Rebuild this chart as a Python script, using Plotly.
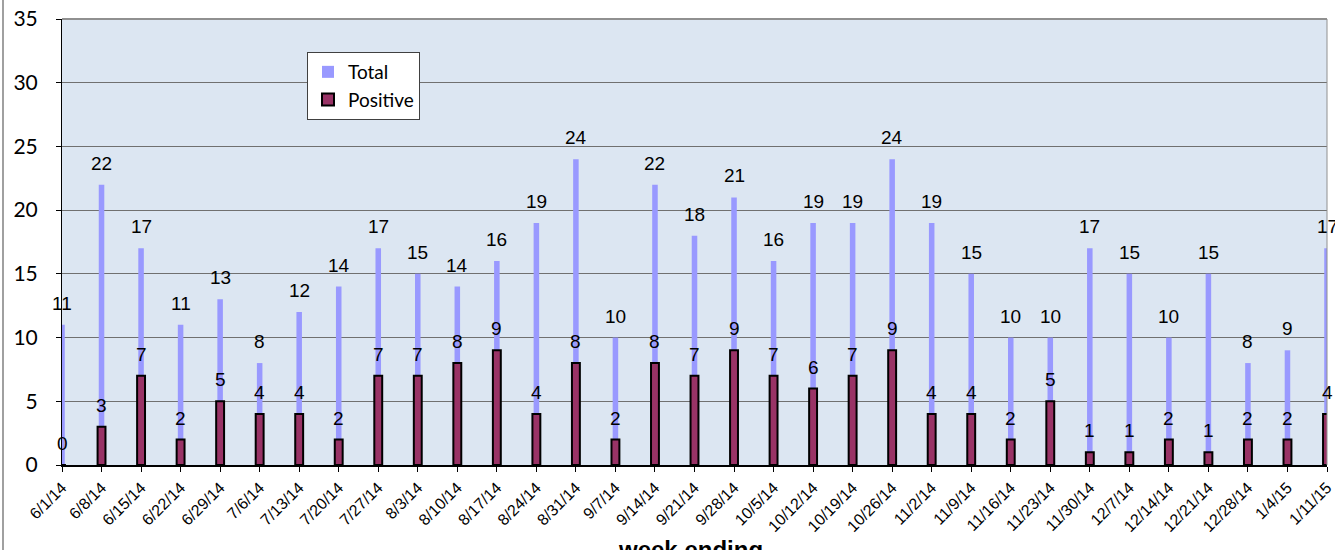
import plotly.graph_objects as go

weeks = ["6/1/14","6/8/14","6/15/14","6/22/14","6/29/14","7/6/14","7/13/14","7/20/14","7/27/14",
         "8/3/14","8/10/14","8/17/14","8/24/14","8/31/14","9/7/14","9/14/14","9/21/14","9/28/14",
         "10/5/14","10/12/14","10/19/14","10/26/14","11/2/14","11/9/14","11/16/14","11/23/14",
         "11/30/14","12/7/14","12/14/14","12/21/14","12/28/14","1/4/15","1/11/15"]
total = [11,22,17,11,13,8,12,14,17,15,14,16,19,24,10,22,18,21,16,19,19,24,19,15,10,10,17,15,10,15,8,9,17]
positive = [0,3,7,2,5,4,4,2,7,7,8,9,4,8,2,8,7,9,7,6,7,9,4,4,2,5,1,1,2,1,2,2,4]

lab_font = dict(family="Liberation Sans, Arial", size=19, color="black")

fig = go.Figure()
fig.add_trace(go.Bar(
    x=weeks, y=total, name="Total", width=0.14,
    marker=dict(color="#9999FF", line=dict(width=0)),
))
fig.add_trace(go.Bar(
    x=weeks, y=positive, name="Positive", width=0.2,
    marker=dict(color="#993366", line=dict(width=2, color="black")),
))

# data labels placed above each bar via data coordinates
label_anns = []
for series in (total, positive):
    for wk, v in zip(weeks, series):
        label_anns.append(dict(x=wk, y=v, xref="x", yref="y", text=str(v),
                               showarrow=False, yanchor="bottom", yshift=9,
                               font=lab_font))

W, H = 1335, 550
L, R, T, B = 62, 8, 19, 85
pw = W - L - R
ph = H - T - B

fig.update_layout(
    width=W, height=H,
    margin=dict(l=L, r=R, t=T, b=B),
    barmode="overlay",
    paper_bgcolor="white",
    plot_bgcolor="#DCE6F2",
    showlegend=True,
    legend=dict(
        x=(307 - L) / pw, y=1 - (52 - T) / ph, xanchor="left", yanchor="top",
        bgcolor="white", bordercolor="#404040", borderwidth=1,
        font=dict(family="Lato, Noto Sans", size=19, color="black"),
        itemwidth=30, tracegroupgap=0,
    ),
    xaxis=dict(
        type="category", range=[0, 32], automargin=False,
        tickangle=-45, tickfont=dict(family="Liberation Sans, Arial", size=16, color="black"),
        ticks="outside", ticklen=5, tickcolor="black",
        showline=True, linecolor="black", linewidth=2,
        showgrid=False,
    ),
    yaxis=dict(
        range=[0, 35], dtick=5, automargin=False,
        tickfont=dict(family="Lato, Noto Sans", size=21, color="black"),
        ticks="outside", ticklen=5, tickcolor="black", ticklabelstandoff=14,
        showline=True, linecolor="black", linewidth=1,
        showgrid=True, gridcolor="#707070", gridwidth=1,
        zeroline=False,
    ),
    shapes=[
        dict(type="line", xref="paper", yref="paper", x0=0, x1=1, y0=1, y1=1,
             line=dict(color="#909090", width=2)),
        dict(type="line", xref="paper", yref="paper", x0=1, x1=1, y0=0, y1=1,
             line=dict(color="#909090", width=1)),
        dict(type="line", xref="paper", yref="paper", x0=(3 - L) / pw, x1=(3 - L) / pw,
             y0=-B / ph, y1=1 + T / ph,
             line=dict(color="#A0A0A0", width=2)),
    ],
    annotations=label_anns + [
        dict(text="<b>week ending</b>", xref="paper", yref="paper",
             x=(690 - L) / pw, y=-(B - 16) / ph, xanchor="center", yanchor="top",
             showarrow=False,
             font=dict(family="Liberation Sans, Arial", size=24, color="black")),
    ],
)

fig.write_html("out.html", config={"displayModeBar": False},
               post_script="document.body.style.margin='0';document.body.style.overflow='hidden';")
